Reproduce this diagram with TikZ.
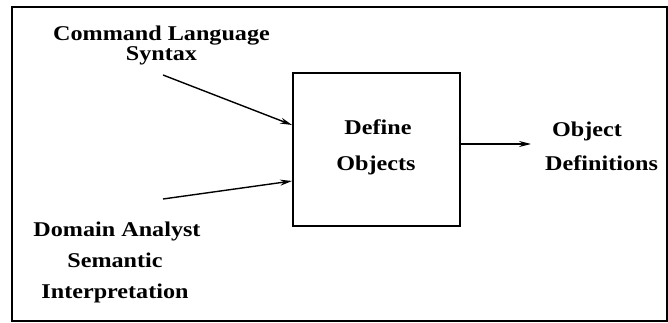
\documentclass[tikz,border=0pt]{standalone}
\usepackage{fontspec}
\setmainfont{Liberation Serif}[FakeStretch=1.15]
\usetikzlibrary{arrows.meta}
\begin{document}
\begin{tikzpicture}[x=1pt,y=-1pt,
  lbl/.style={font=\bfseries\fontsize{21}{21}\selectfont, inner sep=0pt, anchor=base},
  flow/.style={line width=1.4pt, -{Stealth[length=12pt,width=6pt]}},
  procbox/.style={draw, line width=1.8pt, minimum width=167pt, minimum height=153pt, inner sep=0pt}]
  \useasboundingbox (0,0) rectangle (668,323);
  % outer frame
  \draw[line width=1.2pt] (12,7) rectangle (667,321);
  % process box
  \node[procbox] (box) at (376.5,149.5) {};
  % labels
  \node[lbl, align=center, font=\bfseries\fontsize{21}{18.5}\selectfont, anchor=north]
    (cmd) at (161.5,26) {Command Language\\Syntax};
  \node[lbl] (dom1) at (117,236) {Domain Analyst};
  \node[lbl] (dom2) at (115,267) {Semantic};
  \node[lbl] (dom3) at (115,298) {Interpretation};
  \node[lbl] (def1) at (378,135) {Define};
  \node[lbl] (def2) at (376,171) {Objects};
  \node[lbl, anchor=base west] (out1) at (552,137) {Object};
  \node[lbl, anchor=base west] (out2) at (545,170) {Definitions};
  % connectors
  \coordinate (inA) at (163,75);
  \coordinate (inB) at (163,199);
  \coordinate (outEnd) at (531,144);
  \draw[flow] (inA) -- (box.west |- 0,125);
  \draw[flow] (inB) -- (box.west |- 0,181);
  \draw[flow] (box.east |- 0,144) -- (outEnd);
\end{tikzpicture}
\end{document}
